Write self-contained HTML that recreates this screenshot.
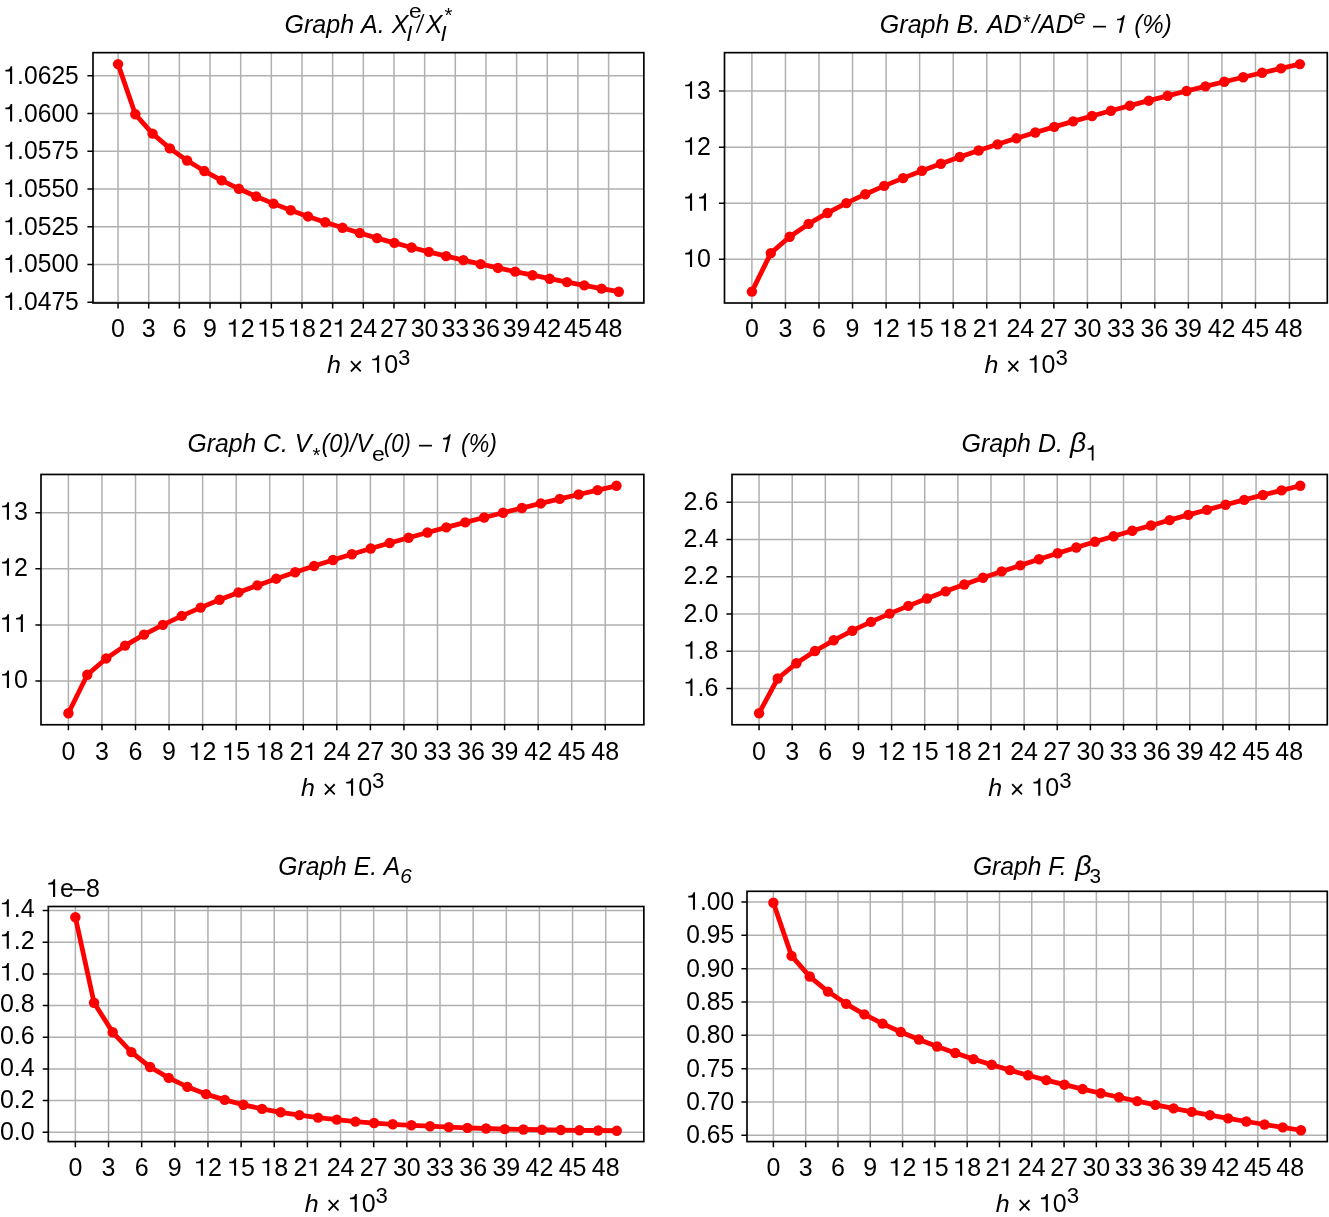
<!DOCTYPE html>
<html><head><meta charset="utf-8"><title>Figure</title>
<style>
html,body{margin:0;padding:0;background:#fff;}
body{width:1329px;height:1217px;overflow:hidden;}
svg{display:block;will-change:transform;}
svg text{font-kerning:none;font-family:"Liberation Sans",sans-serif;font-size:25px;fill:#000;}
</style></head><body>
<svg width="1329" height="1217" viewBox="0 0 1329 1217">
<defs><path id="one" d="M.356 0H.271V-.498H.081V-.560C.191-.562 .273-.580 .294-.703H.356Z"/></defs>
<rect width="1329" height="1217" fill="#fff"/>
<g><path d="M118.04 52.65V303M148.7 52.65V303M179.36 52.65V303M210.02 52.65V303M240.68 52.65V303M271.34 52.65V303M302 52.65V303M332.66 52.65V303M363.32 52.65V303M393.97 52.65V303M424.63 52.65V303M455.29 52.65V303M485.95 52.65V303M516.61 52.65V303M547.27 52.65V303M577.93 52.65V303M608.59 52.65V303M93 75.8H643.85M93 113.55H643.85M93 151.3H643.85M93 189.05H643.85M93 226.8H643.85M93 264.55H643.85M93 302.3H643.85" stroke="#b0b0b0" stroke-width="1.5" fill="none"/>
<polyline points="118.04,64.1 135.31,114.3 152.57,133.61 169.84,148.34 187.11,160.53 204.38,171.06 221.65,180.39 238.91,188.81 256.18,196.51 273.45,203.62 290.72,210.24 307.99,216.44 325.25,222.29 342.52,227.82 359.79,233.07 377.06,238.08 394.33,242.86 411.6,247.45 428.86,251.85 446.13,256.09 463.4,260.17 480.67,264.12 497.94,267.94 515.2,271.63 532.47,275.22 549.74,278.7 567.01,282.08 584.28,285.37 601.54,288.58 618.81,291.7" fill="none" stroke="#ff0000" stroke-width="4.8" stroke-linejoin="round" stroke-linecap="butt"/>
<g fill="#ff0000"><circle cx="118.04" cy="64.1" r="5.2"/><circle cx="135.31" cy="114.3" r="5.2"/><circle cx="152.57" cy="133.61" r="5.2"/><circle cx="169.84" cy="148.34" r="5.2"/><circle cx="187.11" cy="160.53" r="5.2"/><circle cx="204.38" cy="171.06" r="5.2"/><circle cx="221.65" cy="180.39" r="5.2"/><circle cx="238.91" cy="188.81" r="5.2"/><circle cx="256.18" cy="196.51" r="5.2"/><circle cx="273.45" cy="203.62" r="5.2"/><circle cx="290.72" cy="210.24" r="5.2"/><circle cx="307.99" cy="216.44" r="5.2"/><circle cx="325.25" cy="222.29" r="5.2"/><circle cx="342.52" cy="227.82" r="5.2"/><circle cx="359.79" cy="233.07" r="5.2"/><circle cx="377.06" cy="238.08" r="5.2"/><circle cx="394.33" cy="242.86" r="5.2"/><circle cx="411.6" cy="247.45" r="5.2"/><circle cx="428.86" cy="251.85" r="5.2"/><circle cx="446.13" cy="256.09" r="5.2"/><circle cx="463.4" cy="260.17" r="5.2"/><circle cx="480.67" cy="264.12" r="5.2"/><circle cx="497.94" cy="267.94" r="5.2"/><circle cx="515.2" cy="271.63" r="5.2"/><circle cx="532.47" cy="275.22" r="5.2"/><circle cx="549.74" cy="278.7" r="5.2"/><circle cx="567.01" cy="282.08" r="5.2"/><circle cx="584.28" cy="285.37" r="5.2"/><circle cx="601.54" cy="288.58" r="5.2"/><circle cx="618.81" cy="291.7" r="5.2"/></g>
<path d="M118.04 303v5.6M148.7 303v5.6M179.36 303v5.6M210.02 303v5.6M240.68 303v5.6M271.34 303v5.6M302 303v5.6M332.66 303v5.6M363.32 303v5.6M393.97 303v5.6M424.63 303v5.6M455.29 303v5.6M485.95 303v5.6M516.61 303v5.6M547.27 303v5.6M577.93 303v5.6M608.59 303v5.6M93 75.8h-5.6M93 113.55h-5.6M93 151.3h-5.6M93 189.05h-5.6M93 226.8h-5.6M93 264.55h-5.6M93 302.3h-5.6" stroke="#000" stroke-width="1.5" fill="none"/>
<rect x="93" y="52.65" width="550.85" height="250.35" fill="none" stroke="#000" stroke-width="1.67"/>
<text x="111.09" y="336.85">0</text><text x="141.75" y="336.85">3</text><text x="172.41" y="336.85">6</text><text x="203.07" y="336.85">9</text><use href="#one" transform="translate(226.77 336.85) scale(25 25)"/><text x="240.68" y="336.85">2</text><use href="#one" transform="translate(257.43 336.85) scale(25 25)"/><text x="271.34" y="336.85">5</text><use href="#one" transform="translate(288.09 336.85) scale(25 25)"/><text x="302" y="336.85">8</text><text x="318.75" y="336.85">2</text><use href="#one" transform="translate(332.66 336.85) scale(25 25)"/><text x="349.41" y="336.85">24</text><text x="380.07" y="336.85">27</text><text x="410.73" y="336.85">30</text><text x="441.39" y="336.85">33</text><text x="472.05" y="336.85">36</text><text x="502.71" y="336.85">39</text><text x="533.37" y="336.85">42</text><text x="564.03" y="336.85">45</text><text x="594.69" y="336.85">48</text><use href="#one" transform="translate(3.38 83.9) scale(24.68 25)"/><text transform="translate(17.1 83.9) scale(0.9870 1)">.0625</text><use href="#one" transform="translate(3.38 121.6) scale(24.68 25)"/><text transform="translate(17.1 121.6) scale(0.9870 1)">.0600</text><use href="#one" transform="translate(3.38 159.3) scale(24.68 25)"/><text transform="translate(17.1 159.3) scale(0.9870 1)">.0575</text><use href="#one" transform="translate(3.38 197) scale(24.68 25)"/><text transform="translate(17.1 197) scale(0.9870 1)">.0550</text><use href="#one" transform="translate(3.38 234.7) scale(24.68 25)"/><text transform="translate(17.1 234.7) scale(0.9870 1)">.0525</text><use href="#one" transform="translate(3.38 272.4) scale(24.68 25)"/><text transform="translate(17.1 272.4) scale(0.9870 1)">.0500</text><use href="#one" transform="translate(3.38 310.1) scale(24.68 25)"/><text transform="translate(17.1 310.1) scale(0.9870 1)">.0475</text>
<text transform="translate(327.12 372.75) scale(1 .95)" font-style="italic">h</text>
<text x="348.53" y="375.35">×</text>
<use href="#one" transform="translate(370.23 372.75) scale(25 25)"/><text x="384.13" y="372.75">0</text>
<text x="397.93" y="365.25" style="font-size:22.2px">3</text></g>
<g><path d="M751.9 52.65V303M785.45 52.65V303M819 52.65V303M852.55 52.65V303M886.1 52.65V303M919.66 52.65V303M953.21 52.65V303M986.76 52.65V303M1020.31 52.65V303M1053.86 52.65V303M1087.41 52.65V303M1121.26 52.65V303M1154.81 52.65V303M1188.36 52.65V303M1221.91 52.65V303M1255.47 52.65V303M1289.47 52.65V303M724.5 91.1H1327.3M724.5 147.15H1327.3M724.5 203.2H1327.3M724.5 259.25H1327.3" stroke="#b0b0b0" stroke-width="1.5" fill="none"/>
<polyline points="751.9,291.6 770.8,253.1 789.69,236.74 808.59,223.92 827.49,212.95 846.38,203.15 865.28,194.2 884.18,185.9 903.07,178.1 921.97,170.73 940.87,163.71 959.76,156.99 978.66,150.54 997.56,144.33 1016.45,138.32 1035.35,132.5 1054.24,126.85 1073.14,121.35 1092.04,116 1110.93,110.78 1129.83,105.68 1148.73,100.69 1167.62,95.81 1186.52,91.02 1205.42,86.33 1224.31,81.73 1243.21,77.21 1262.11,72.77 1281,68.4 1299.9,64.1" fill="none" stroke="#ff0000" stroke-width="4.8" stroke-linejoin="round" stroke-linecap="butt"/>
<g fill="#ff0000"><circle cx="751.9" cy="291.6" r="5.2"/><circle cx="770.8" cy="253.1" r="5.2"/><circle cx="789.69" cy="236.74" r="5.2"/><circle cx="808.59" cy="223.92" r="5.2"/><circle cx="827.49" cy="212.95" r="5.2"/><circle cx="846.38" cy="203.15" r="5.2"/><circle cx="865.28" cy="194.2" r="5.2"/><circle cx="884.18" cy="185.9" r="5.2"/><circle cx="903.07" cy="178.1" r="5.2"/><circle cx="921.97" cy="170.73" r="5.2"/><circle cx="940.87" cy="163.71" r="5.2"/><circle cx="959.76" cy="156.99" r="5.2"/><circle cx="978.66" cy="150.54" r="5.2"/><circle cx="997.56" cy="144.33" r="5.2"/><circle cx="1016.45" cy="138.32" r="5.2"/><circle cx="1035.35" cy="132.5" r="5.2"/><circle cx="1054.24" cy="126.85" r="5.2"/><circle cx="1073.14" cy="121.35" r="5.2"/><circle cx="1092.04" cy="116" r="5.2"/><circle cx="1110.93" cy="110.78" r="5.2"/><circle cx="1129.83" cy="105.68" r="5.2"/><circle cx="1148.73" cy="100.69" r="5.2"/><circle cx="1167.62" cy="95.81" r="5.2"/><circle cx="1186.52" cy="91.02" r="5.2"/><circle cx="1205.42" cy="86.33" r="5.2"/><circle cx="1224.31" cy="81.73" r="5.2"/><circle cx="1243.21" cy="77.21" r="5.2"/><circle cx="1262.11" cy="72.77" r="5.2"/><circle cx="1281" cy="68.4" r="5.2"/><circle cx="1299.9" cy="64.1" r="5.2"/></g>
<path d="M751.9 303v5.6M785.45 303v5.6M819 303v5.6M852.55 303v5.6M886.1 303v5.6M919.66 303v5.6M953.21 303v5.6M986.76 303v5.6M1020.31 303v5.6M1053.86 303v5.6M1087.41 303v5.6M1121.26 303v5.6M1154.81 303v5.6M1188.36 303v5.6M1221.91 303v5.6M1255.47 303v5.6M1289.47 303v5.6M724.5 91.1h-5.6M724.5 147.15h-5.6M724.5 203.2h-5.6M724.5 259.25h-5.6" stroke="#000" stroke-width="1.5" fill="none"/>
<rect x="724.5" y="52.65" width="602.8" height="250.35" fill="none" stroke="#000" stroke-width="1.67"/>
<text x="744.95" y="336.85">0</text><text x="778.5" y="336.85">3</text><text x="812.05" y="336.85">6</text><text x="845.6" y="336.85">9</text><use href="#one" transform="translate(872.2 336.85) scale(25 25)"/><text x="886.1" y="336.85">2</text><use href="#one" transform="translate(905.75 336.85) scale(25 25)"/><text x="919.66" y="336.85">5</text><use href="#one" transform="translate(939.3 336.85) scale(25 25)"/><text x="953.21" y="336.85">8</text><text x="972.85" y="336.85">2</text><use href="#one" transform="translate(986.76 336.85) scale(25 25)"/><text x="1006.4" y="336.85">24</text><text x="1039.96" y="336.85">27</text><text x="1073.51" y="336.85">30</text><text x="1107.06" y="336.85">33</text><text x="1140.61" y="336.85">36</text><text x="1174.16" y="336.85">39</text><text x="1207.71" y="336.85">42</text><text x="1241.26" y="336.85">45</text><text x="1274.81" y="336.85">48</text><use href="#one" transform="translate(683.19 98.75) scale(25 25)"/><text x="697.1" y="98.75">3</text><use href="#one" transform="translate(683.19 154.8) scale(25 25)"/><text x="697.1" y="154.8">2</text><use href="#one" transform="translate(683.19 210.85) scale(25 25)"/><use href="#one" transform="translate(697.1 210.85) scale(25 25)"/><use href="#one" transform="translate(683.19 266.9) scale(25 25)"/><text x="697.1" y="266.9">0</text>
<text transform="translate(984.6 372.75) scale(1 .95)" font-style="italic">h</text>
<text x="1006" y="375.35">×</text>
<use href="#one" transform="translate(1027.7 372.75) scale(25 25)"/><text x="1041.6" y="372.75">0</text>
<text x="1055.4" y="365.25" style="font-size:22.2px">3</text></g>
<g><path d="M68.4 474.45V724.75M101.96 474.45V724.75M135.51 474.45V724.75M169.06 474.45V724.75M202.62 474.45V724.75M236.17 474.45V724.75M269.73 474.45V724.75M303.28 474.45V724.75M336.83 474.45V724.75M370.39 474.45V724.75M403.94 474.45V724.75M437.49 474.45V724.75M471.05 474.45V724.75M504.6 474.45V724.75M538.16 474.45V724.75M571.71 474.45V724.75M605.26 474.45V724.75M41 512.8H643.85M41 568.85H643.85M41 624.9H643.85M41 680.95H643.85" stroke="#b0b0b0" stroke-width="1.5" fill="none"/>
<polyline points="68.4,713.3 87.3,674.8 106.2,658.44 125.1,645.62 143.99,634.65 162.89,624.85 181.79,615.9 200.69,607.6 219.59,599.8 238.49,592.43 257.38,585.41 276.28,578.69 295.18,572.24 314.08,566.03 332.98,560.02 351.87,554.2 370.77,548.55 389.67,543.05 408.57,537.7 427.47,532.48 446.36,527.38 465.26,522.39 484.16,517.51 503.06,512.72 521.96,508.03 540.86,503.43 559.75,498.91 578.65,494.47 597.55,490.1 616.45,485.8" fill="none" stroke="#ff0000" stroke-width="4.8" stroke-linejoin="round" stroke-linecap="butt"/>
<g fill="#ff0000"><circle cx="68.4" cy="713.3" r="5.2"/><circle cx="87.3" cy="674.8" r="5.2"/><circle cx="106.2" cy="658.44" r="5.2"/><circle cx="125.1" cy="645.62" r="5.2"/><circle cx="143.99" cy="634.65" r="5.2"/><circle cx="162.89" cy="624.85" r="5.2"/><circle cx="181.79" cy="615.9" r="5.2"/><circle cx="200.69" cy="607.6" r="5.2"/><circle cx="219.59" cy="599.8" r="5.2"/><circle cx="238.49" cy="592.43" r="5.2"/><circle cx="257.38" cy="585.41" r="5.2"/><circle cx="276.28" cy="578.69" r="5.2"/><circle cx="295.18" cy="572.24" r="5.2"/><circle cx="314.08" cy="566.03" r="5.2"/><circle cx="332.98" cy="560.02" r="5.2"/><circle cx="351.87" cy="554.2" r="5.2"/><circle cx="370.77" cy="548.55" r="5.2"/><circle cx="389.67" cy="543.05" r="5.2"/><circle cx="408.57" cy="537.7" r="5.2"/><circle cx="427.47" cy="532.48" r="5.2"/><circle cx="446.36" cy="527.38" r="5.2"/><circle cx="465.26" cy="522.39" r="5.2"/><circle cx="484.16" cy="517.51" r="5.2"/><circle cx="503.06" cy="512.72" r="5.2"/><circle cx="521.96" cy="508.03" r="5.2"/><circle cx="540.86" cy="503.43" r="5.2"/><circle cx="559.75" cy="498.91" r="5.2"/><circle cx="578.65" cy="494.47" r="5.2"/><circle cx="597.55" cy="490.1" r="5.2"/><circle cx="616.45" cy="485.8" r="5.2"/></g>
<path d="M68.4 724.75v5.6M101.96 724.75v5.6M135.51 724.75v5.6M169.06 724.75v5.6M202.62 724.75v5.6M236.17 724.75v5.6M269.73 724.75v5.6M303.28 724.75v5.6M336.83 724.75v5.6M370.39 724.75v5.6M403.94 724.75v5.6M437.49 724.75v5.6M471.05 724.75v5.6M504.6 724.75v5.6M538.16 724.75v5.6M571.71 724.75v5.6M605.26 724.75v5.6M41 512.8h-5.6M41 568.85h-5.6M41 624.9h-5.6M41 680.95h-5.6" stroke="#000" stroke-width="1.5" fill="none"/>
<rect x="41" y="474.45" width="602.85" height="250.3" fill="none" stroke="#000" stroke-width="1.67"/>
<text x="61.45" y="759.95">0</text><text x="95" y="759.95">3</text><text x="128.56" y="759.95">6</text><text x="162.11" y="759.95">9</text><use href="#one" transform="translate(188.71 759.95) scale(25 25)"/><text x="202.62" y="759.95">2</text><use href="#one" transform="translate(222.27 759.95) scale(25 25)"/><text x="236.17" y="759.95">5</text><use href="#one" transform="translate(255.82 759.95) scale(25 25)"/><text x="269.73" y="759.95">8</text><text x="289.38" y="759.95">2</text><use href="#one" transform="translate(303.28 759.95) scale(25 25)"/><text x="322.93" y="759.95">24</text><text x="356.48" y="759.95">27</text><text x="390.04" y="759.95">30</text><text x="423.59" y="759.95">33</text><text x="457.14" y="759.95">36</text><text x="490.7" y="759.95">39</text><text x="524.25" y="759.95">42</text><text x="557.81" y="759.95">45</text><text x="591.36" y="759.95">48</text><use href="#one" transform="translate(0.09 519.8) scale(25 25)"/><text x="14" y="519.8">3</text><use href="#one" transform="translate(0.09 575.85) scale(25 25)"/><text x="14" y="575.85">2</text><use href="#one" transform="translate(0.09 631.9) scale(25 25)"/><use href="#one" transform="translate(14 631.9) scale(25 25)"/><use href="#one" transform="translate(0.09 687.95) scale(25 25)"/><text x="14" y="687.95">0</text>
<text transform="translate(301.12 795.85) scale(1 .95)" font-style="italic">h</text>
<text x="322.53" y="798.45">×</text>
<use href="#one" transform="translate(344.23 795.85) scale(25 25)"/><text x="358.13" y="795.85">0</text>
<text x="371.93" y="788.35" style="font-size:22.2px">3</text></g>
<g><path d="M759.06 474.45V724.75M792.19 474.45V724.75M825.33 474.45V724.75M858.46 474.45V724.75M891.59 474.45V724.75M924.73 474.45V724.75M957.86 474.45V724.75M990.99 474.45V724.75M1024.13 474.45V724.75M1057.26 474.45V724.75M1090.39 474.45V724.75M1123.53 474.45V724.75M1156.66 474.45V724.75M1189.8 474.45V724.75M1222.93 474.45V724.75M1256.06 474.45V724.75M1289.2 474.45V724.75M732 502.3H1327.3M732 539.54H1327.3M732 576.78H1327.3M732 614.02H1327.3M732 651.26H1327.3M732 688.5H1327.3" stroke="#b0b0b0" stroke-width="1.5" fill="none"/>
<polyline points="759.06,713.2 777.72,678.5 796.38,663.3 815.04,651 833.7,640.3 852.37,630.7 871.03,621.9 889.69,613.6 908.35,605.9 927.01,598.55 945.67,591.35 964.33,584.5 983,577.8 1001.66,571.4 1020.32,565.4 1038.98,559.3 1057.64,553.3 1076.3,547.5 1094.97,541.8 1113.63,536.2 1132.29,530.7 1150.95,525.5 1169.61,520.15 1188.27,514.9 1206.93,509.9 1225.6,504.7 1244.26,499.9 1262.92,495 1281.58,490.4 1300.24,485.75" fill="none" stroke="#ff0000" stroke-width="4.8" stroke-linejoin="round" stroke-linecap="butt"/>
<g fill="#ff0000"><circle cx="759.06" cy="713.2" r="5.2"/><circle cx="777.72" cy="678.5" r="5.2"/><circle cx="796.38" cy="663.3" r="5.2"/><circle cx="815.04" cy="651" r="5.2"/><circle cx="833.7" cy="640.3" r="5.2"/><circle cx="852.37" cy="630.7" r="5.2"/><circle cx="871.03" cy="621.9" r="5.2"/><circle cx="889.69" cy="613.6" r="5.2"/><circle cx="908.35" cy="605.9" r="5.2"/><circle cx="927.01" cy="598.55" r="5.2"/><circle cx="945.67" cy="591.35" r="5.2"/><circle cx="964.33" cy="584.5" r="5.2"/><circle cx="983" cy="577.8" r="5.2"/><circle cx="1001.66" cy="571.4" r="5.2"/><circle cx="1020.32" cy="565.4" r="5.2"/><circle cx="1038.98" cy="559.3" r="5.2"/><circle cx="1057.64" cy="553.3" r="5.2"/><circle cx="1076.3" cy="547.5" r="5.2"/><circle cx="1094.97" cy="541.8" r="5.2"/><circle cx="1113.63" cy="536.2" r="5.2"/><circle cx="1132.29" cy="530.7" r="5.2"/><circle cx="1150.95" cy="525.5" r="5.2"/><circle cx="1169.61" cy="520.15" r="5.2"/><circle cx="1188.27" cy="514.9" r="5.2"/><circle cx="1206.93" cy="509.9" r="5.2"/><circle cx="1225.6" cy="504.7" r="5.2"/><circle cx="1244.26" cy="499.9" r="5.2"/><circle cx="1262.92" cy="495" r="5.2"/><circle cx="1281.58" cy="490.4" r="5.2"/><circle cx="1300.24" cy="485.75" r="5.2"/></g>
<path d="M759.06 724.75v5.6M792.19 724.75v5.6M825.33 724.75v5.6M858.46 724.75v5.6M891.59 724.75v5.6M924.73 724.75v5.6M957.86 724.75v5.6M990.99 724.75v5.6M1024.13 724.75v5.6M1057.26 724.75v5.6M1090.39 724.75v5.6M1123.53 724.75v5.6M1156.66 724.75v5.6M1189.8 724.75v5.6M1222.93 724.75v5.6M1256.06 724.75v5.6M1289.2 724.75v5.6M732 502.3h-5.6M732 539.54h-5.6M732 576.78h-5.6M732 614.02h-5.6M732 651.26h-5.6M732 688.5h-5.6" stroke="#000" stroke-width="1.5" fill="none"/>
<rect x="732" y="474.45" width="595.3" height="250.3" fill="none" stroke="#000" stroke-width="1.67"/>
<text x="752.11" y="759.95">0</text><text x="785.24" y="759.95">3</text><text x="818.37" y="759.95">6</text><text x="851.51" y="759.95">9</text><use href="#one" transform="translate(877.69 759.95) scale(25 25)"/><text x="891.59" y="759.95">2</text><use href="#one" transform="translate(910.82 759.95) scale(25 25)"/><text x="924.73" y="759.95">5</text><use href="#one" transform="translate(943.96 759.95) scale(25 25)"/><text x="957.86" y="759.95">8</text><text x="977.09" y="759.95">2</text><use href="#one" transform="translate(990.99 759.95) scale(25 25)"/><text x="1010.22" y="759.95">24</text><text x="1043.36" y="759.95">27</text><text x="1076.49" y="759.95">30</text><text x="1109.62" y="759.95">33</text><text x="1142.76" y="759.95">36</text><text x="1175.89" y="759.95">39</text><text x="1209.03" y="759.95">42</text><text x="1242.16" y="759.95">45</text><text x="1275.29" y="759.95">48</text><text x="683.6" y="510">2.6</text><text x="683.6" y="547.21">2.4</text><text x="683.6" y="584.42">2.2</text><text x="683.6" y="621.63">2.0</text><use href="#one" transform="translate(683.6 658.84) scale(25 25)"/><text x="697.5" y="658.84">.8</text><use href="#one" transform="translate(683.6 696.05) scale(25 25)"/><text x="697.5" y="696.05">.6</text>
<text transform="translate(988.35 795.85) scale(1 .95)" font-style="italic">h</text>
<text x="1009.75" y="798.45">×</text>
<use href="#one" transform="translate(1031.45 795.85) scale(25 25)"/><text x="1045.35" y="795.85">0</text>
<text x="1059.15" y="788.35" style="font-size:22.2px">3</text></g>
<g><path d="M75.37 906.5V1141.6M108.52 906.5V1141.6M141.67 906.5V1141.6M174.81 906.5V1141.6M207.96 906.5V1141.6M241.11 906.5V1141.6M274.26 906.5V1141.6M307.4 906.5V1141.6M340.55 906.5V1141.6M373.7 906.5V1141.6M406.85 906.5V1141.6M439.99 906.5V1141.6M473.14 906.5V1141.6M506.29 906.5V1141.6M539.44 906.5V1141.6M572.58 906.5V1141.6M605.73 906.5V1141.6M48.3 910.6H643.85M48.3 942.26H643.85M48.3 973.92H643.85M48.3 1005.58H643.85M48.3 1037.24H643.85M48.3 1068.9H643.85M48.3 1100.56H643.85M48.3 1132.22H643.85" stroke="#b0b0b0" stroke-width="1.5" fill="none"/>
<polyline points="75.37,917.3 94.04,1002.7 112.71,1032.3 131.38,1052.1 150.05,1067 168.72,1077.9 187.39,1086.9 206.06,1094.1 224.72,1099.9 243.39,1104.8 262.06,1108.9 280.73,1112.3 299.4,1115.1 318.07,1117.6 336.74,1119.65 355.41,1121.6 374.08,1123.05 392.75,1124.3 411.42,1125.3 430.09,1126.2 448.76,1127.1 467.43,1127.9 486.09,1128.5 504.76,1129.1 523.43,1129.45 542.1,1129.76 560.77,1130.04 579.44,1130.29 598.11,1130.5 616.78,1130.75" fill="none" stroke="#ff0000" stroke-width="4.8" stroke-linejoin="round" stroke-linecap="butt"/>
<g fill="#ff0000"><circle cx="75.37" cy="917.3" r="5.2"/><circle cx="94.04" cy="1002.7" r="5.2"/><circle cx="112.71" cy="1032.3" r="5.2"/><circle cx="131.38" cy="1052.1" r="5.2"/><circle cx="150.05" cy="1067" r="5.2"/><circle cx="168.72" cy="1077.9" r="5.2"/><circle cx="187.39" cy="1086.9" r="5.2"/><circle cx="206.06" cy="1094.1" r="5.2"/><circle cx="224.72" cy="1099.9" r="5.2"/><circle cx="243.39" cy="1104.8" r="5.2"/><circle cx="262.06" cy="1108.9" r="5.2"/><circle cx="280.73" cy="1112.3" r="5.2"/><circle cx="299.4" cy="1115.1" r="5.2"/><circle cx="318.07" cy="1117.6" r="5.2"/><circle cx="336.74" cy="1119.65" r="5.2"/><circle cx="355.41" cy="1121.6" r="5.2"/><circle cx="374.08" cy="1123.05" r="5.2"/><circle cx="392.75" cy="1124.3" r="5.2"/><circle cx="411.42" cy="1125.3" r="5.2"/><circle cx="430.09" cy="1126.2" r="5.2"/><circle cx="448.76" cy="1127.1" r="5.2"/><circle cx="467.43" cy="1127.9" r="5.2"/><circle cx="486.09" cy="1128.5" r="5.2"/><circle cx="504.76" cy="1129.1" r="5.2"/><circle cx="523.43" cy="1129.45" r="5.2"/><circle cx="542.1" cy="1129.76" r="5.2"/><circle cx="560.77" cy="1130.04" r="5.2"/><circle cx="579.44" cy="1130.29" r="5.2"/><circle cx="598.11" cy="1130.5" r="5.2"/><circle cx="616.78" cy="1130.75" r="5.2"/></g>
<path d="M75.37 1141.6v5.6M108.52 1141.6v5.6M141.67 1141.6v5.6M174.81 1141.6v5.6M207.96 1141.6v5.6M241.11 1141.6v5.6M274.26 1141.6v5.6M307.4 1141.6v5.6M340.55 1141.6v5.6M373.7 1141.6v5.6M406.85 1141.6v5.6M439.99 1141.6v5.6M473.14 1141.6v5.6M506.29 1141.6v5.6M539.44 1141.6v5.6M572.58 1141.6v5.6M605.73 1141.6v5.6M48.3 910.6h-5.6M48.3 942.26h-5.6M48.3 973.92h-5.6M48.3 1005.58h-5.6M48.3 1037.24h-5.6M48.3 1068.9h-5.6M48.3 1100.56h-5.6M48.3 1132.22h-5.6" stroke="#000" stroke-width="1.5" fill="none"/>
<rect x="48.3" y="906.5" width="595.55" height="235.1" fill="none" stroke="#000" stroke-width="1.67"/>
<text x="68.42" y="1175.8">0</text><text x="101.57" y="1175.8">3</text><text x="134.71" y="1175.8">6</text><text x="167.86" y="1175.8">9</text><use href="#one" transform="translate(194.06 1175.8) scale(25 25)"/><text x="207.96" y="1175.8">2</text><use href="#one" transform="translate(227.2 1175.8) scale(25 25)"/><text x="241.11" y="1175.8">5</text><use href="#one" transform="translate(260.35 1175.8) scale(25 25)"/><text x="274.26" y="1175.8">8</text><text x="293.5" y="1175.8">2</text><use href="#one" transform="translate(307.4 1175.8) scale(25 25)"/><text x="326.65" y="1175.8">24</text><text x="359.79" y="1175.8">27</text><text x="392.94" y="1175.8">30</text><text x="426.09" y="1175.8">33</text><text x="459.24" y="1175.8">36</text><text x="492.38" y="1175.8">39</text><text x="525.53" y="1175.8">42</text><text x="558.68" y="1175.8">45</text><text x="591.83" y="1175.8">48</text><use href="#one" transform="translate(-0.05 916.75) scale(25 25)"/><text x="13.85" y="916.75">.4</text><use href="#one" transform="translate(-0.05 948.63) scale(25 25)"/><text x="13.85" y="948.63">.2</text><use href="#one" transform="translate(-0.05 980.51) scale(25 25)"/><text x="13.85" y="980.51">.0</text><text x="-0.05" y="1012.39">0.8</text><text x="-0.05" y="1044.27">0.6</text><text x="-0.05" y="1076.15">0.4</text><text x="-0.05" y="1108.03">0.2</text><text x="-0.05" y="1139.91">0.0</text>
<text transform="translate(304.77 1211.7) scale(1 .95)" font-style="italic">h</text>
<text x="326.18" y="1214.3">×</text>
<use href="#one" transform="translate(347.88 1211.7) scale(25 25)"/><text x="361.78" y="1211.7">0</text>
<text x="375.57" y="1203.3" style="font-size:22.2px">3</text></g>
<g><path d="M773.38 891.3V1141.6M805.68 891.3V1141.6M837.97 891.3V1141.6M870.27 891.3V1141.6M902.57 891.3V1141.6M934.87 891.3V1141.6M967.17 891.3V1141.6M999.47 891.3V1141.6M1031.77 891.3V1141.6M1064.07 891.3V1141.6M1096.36 891.3V1141.6M1128.66 891.3V1141.6M1160.96 891.3V1141.6M1193.26 891.3V1141.6M1225.56 891.3V1141.6M1257.86 891.3V1141.6M1290.16 891.3V1141.6M747 902H1327.3M747 935.33H1327.3M747 968.66H1327.3M747 1001.99H1327.3M747 1035.32H1327.3M747 1068.65H1327.3M747 1101.98H1327.3M747 1135.31H1327.3" stroke="#b0b0b0" stroke-width="1.5" fill="none"/>
<polyline points="773.38,902.7 791.57,955.9 809.76,976.55 827.95,991.6 846.14,1003.86 864.33,1014.36 882.52,1023.62 900.72,1031.95 918.91,1039.55 937.1,1046.55 955.29,1053.04 973.48,1059.11 991.67,1064.8 1009.86,1070.17 1028.05,1075.26 1046.25,1080.08 1064.44,1084.68 1082.63,1089.06 1100.82,1093.25 1119.01,1097.27 1137.2,1101.13 1155.39,1104.84 1173.58,1108.41 1191.78,1111.85 1209.97,1115.18 1228.16,1118.39 1246.35,1121.5 1264.54,1124.5 1282.73,1127.42 1300.92,1130.25" fill="none" stroke="#ff0000" stroke-width="4.8" stroke-linejoin="round" stroke-linecap="butt"/>
<g fill="#ff0000"><circle cx="773.38" cy="902.7" r="5.2"/><circle cx="791.57" cy="955.9" r="5.2"/><circle cx="809.76" cy="976.55" r="5.2"/><circle cx="827.95" cy="991.6" r="5.2"/><circle cx="846.14" cy="1003.86" r="5.2"/><circle cx="864.33" cy="1014.36" r="5.2"/><circle cx="882.52" cy="1023.62" r="5.2"/><circle cx="900.72" cy="1031.95" r="5.2"/><circle cx="918.91" cy="1039.55" r="5.2"/><circle cx="937.1" cy="1046.55" r="5.2"/><circle cx="955.29" cy="1053.04" r="5.2"/><circle cx="973.48" cy="1059.11" r="5.2"/><circle cx="991.67" cy="1064.8" r="5.2"/><circle cx="1009.86" cy="1070.17" r="5.2"/><circle cx="1028.05" cy="1075.26" r="5.2"/><circle cx="1046.25" cy="1080.08" r="5.2"/><circle cx="1064.44" cy="1084.68" r="5.2"/><circle cx="1082.63" cy="1089.06" r="5.2"/><circle cx="1100.82" cy="1093.25" r="5.2"/><circle cx="1119.01" cy="1097.27" r="5.2"/><circle cx="1137.2" cy="1101.13" r="5.2"/><circle cx="1155.39" cy="1104.84" r="5.2"/><circle cx="1173.58" cy="1108.41" r="5.2"/><circle cx="1191.78" cy="1111.85" r="5.2"/><circle cx="1209.97" cy="1115.18" r="5.2"/><circle cx="1228.16" cy="1118.39" r="5.2"/><circle cx="1246.35" cy="1121.5" r="5.2"/><circle cx="1264.54" cy="1124.5" r="5.2"/><circle cx="1282.73" cy="1127.42" r="5.2"/><circle cx="1300.92" cy="1130.25" r="5.2"/></g>
<path d="M773.38 1141.6v5.6M805.68 1141.6v5.6M837.97 1141.6v5.6M870.27 1141.6v5.6M902.57 1141.6v5.6M934.87 1141.6v5.6M967.17 1141.6v5.6M999.47 1141.6v5.6M1031.77 1141.6v5.6M1064.07 1141.6v5.6M1096.36 1141.6v5.6M1128.66 1141.6v5.6M1160.96 1141.6v5.6M1193.26 1141.6v5.6M1225.56 1141.6v5.6M1257.86 1141.6v5.6M1290.16 1141.6v5.6M747 902h-5.6M747 935.33h-5.6M747 968.66h-5.6M747 1001.99h-5.6M747 1035.32h-5.6M747 1068.65h-5.6M747 1101.98h-5.6M747 1135.31h-5.6" stroke="#000" stroke-width="1.5" fill="none"/>
<rect x="747" y="891.3" width="580.3" height="250.3" fill="none" stroke="#000" stroke-width="1.67"/>
<text x="766.43" y="1175.8">0</text><text x="798.72" y="1175.8">3</text><text x="831.02" y="1175.8">6</text><text x="863.32" y="1175.8">9</text><use href="#one" transform="translate(888.67 1175.8) scale(25 25)"/><text x="902.57" y="1175.8">2</text><use href="#one" transform="translate(920.97 1175.8) scale(25 25)"/><text x="934.87" y="1175.8">5</text><use href="#one" transform="translate(953.27 1175.8) scale(25 25)"/><text x="967.17" y="1175.8">8</text><text x="985.56" y="1175.8">2</text><use href="#one" transform="translate(999.47 1175.8) scale(25 25)"/><text x="1017.86" y="1175.8">24</text><text x="1050.16" y="1175.8">27</text><text x="1082.46" y="1175.8">30</text><text x="1114.76" y="1175.8">33</text><text x="1147.06" y="1175.8">36</text><text x="1179.36" y="1175.8">39</text><text x="1211.66" y="1175.8">42</text><text x="1243.95" y="1175.8">45</text><text x="1276.25" y="1175.8">48</text><use href="#one" transform="translate(686.27 909.85) scale(24.57 25)"/><text transform="translate(699.94 909.85) scale(0.9830 1)">.00</text><text transform="translate(686.27 943.18) scale(0.9830 1)">0.95</text><text transform="translate(686.27 976.51) scale(0.9830 1)">0.90</text><text transform="translate(686.27 1009.84) scale(0.9830 1)">0.85</text><text transform="translate(686.27 1043.17) scale(0.9830 1)">0.80</text><text transform="translate(686.27 1076.5) scale(0.9830 1)">0.75</text><text transform="translate(686.27 1109.83) scale(0.9830 1)">0.70</text><text transform="translate(686.27 1143.16) scale(0.9830 1)">0.65</text>
<text transform="translate(995.85 1211.7) scale(1 .95)" font-style="italic">h</text>
<text x="1017.25" y="1214.3">×</text>
<use href="#one" transform="translate(1038.95 1211.7) scale(25 25)"/><text x="1052.85" y="1211.7">0</text>
<text x="1066.65" y="1203.3" style="font-size:22.2px">3</text></g>
<g id="titles">
<text x="284.57" y="32.8" font-style="italic">Graph A.</text>
<text x="391.68" y="32.8" font-style="italic">X</text>
<text x="406.23" y="41" font-style="italic" style="font-size:22px">I</text>
<text transform="translate(409.04 18) scale(1.0808 1)" style="font-size:21px">e</text>
<text transform="translate(417.07 32.8) scale(0.8278 1)" font-style="italic">/</text>
<text x="425.68" y="32.8" font-style="italic">X</text>
<text x="440.43" y="41" font-style="italic" style="font-size:22px">I</text>
<text x="444.57" y="22.34" style="font-size:20.7px">*</text>
<text transform="translate(879.86 32.8) scale(1.0023 1)" font-style="italic">Graph B. AD</text>
<text x="1022" y="29" font-style="italic" style="font-size:20.4px">*</text>
<text transform="translate(1032.1 32.8) scale(0.9885 1)" font-style="italic">/AD</text>
<text transform="translate(1073.2 23.9) scale(1.0596 1)" font-style="italic" style="font-size:21px">e</text>
<path d="M1093 26.65H1105.9" stroke="#000" stroke-width="1.7"/>
<use href="#one" transform="translate(1112.25 32.8) skewX(-12) scale(25 25)"/>
<text transform="translate(1134.27 32.8) scale(0.9636 1)" font-style="italic">(%)</text>
<text transform="translate(187.48 451.9) scale(0.9892 1)" font-style="italic">Graph C. V</text>
<text x="312.57" y="462.33" style="font-size:20.4px">*</text>
<text transform="translate(321.5 451.9) scale(0.9355 1)" font-style="italic">(0)/V</text>
<text transform="translate(372.07 461.1) scale(1.0960 1)" style="font-size:21px">e</text>
<text transform="translate(383.87 451.9) scale(0.8819 1)" font-style="italic">(0)</text>
<path d="M419 445.65H431.95" stroke="#000" stroke-width="1.7"/>
<use href="#one" transform="translate(438.15 451.9) skewX(-12) scale(25 25)"/>
<text transform="translate(461.12 451.9) scale(0.9222 1)" font-style="italic">(%)</text>
<text transform="translate(961.52 451.7) scale(1.0002 1)" font-style="italic">Graph D.</text>
<text transform="translate(1070.09 451.7) scale(1.0503 1)" font-style="italic" style="font-size:27px">β</text>
<use href="#one" transform="translate(1085.9 460.4) scale(21.5 21.5)"/>
<text transform="translate(278.28 874.5) scale(0.9868 1)" font-style="italic">Graph E. A</text>
<text x="400.24" y="883.3" font-style="italic" style="font-size:20.7px">6</text>
<use href="#one" transform="translate(46.25 896.9) scale(25 25)"/>
<text x="60.09" y="896.9">e</text>
<text transform="translate(71.75 897.9) scale(1.0127 1)">−</text>
<text x="86.01" y="896.9">8</text>
<text transform="translate(972.88 874.5) scale(0.9859 1)" font-style="italic">Graph F</text>
<text x="1059.82" y="874.5" font-style="italic">.</text>
<text transform="translate(1075.3 874.5) scale(1.0567 1)" font-style="italic" style="font-size:27px">β</text>
<text x="1089.41" y="883.3" style="font-size:20.7px">3</text>
</g>
</svg>
</body></html>
